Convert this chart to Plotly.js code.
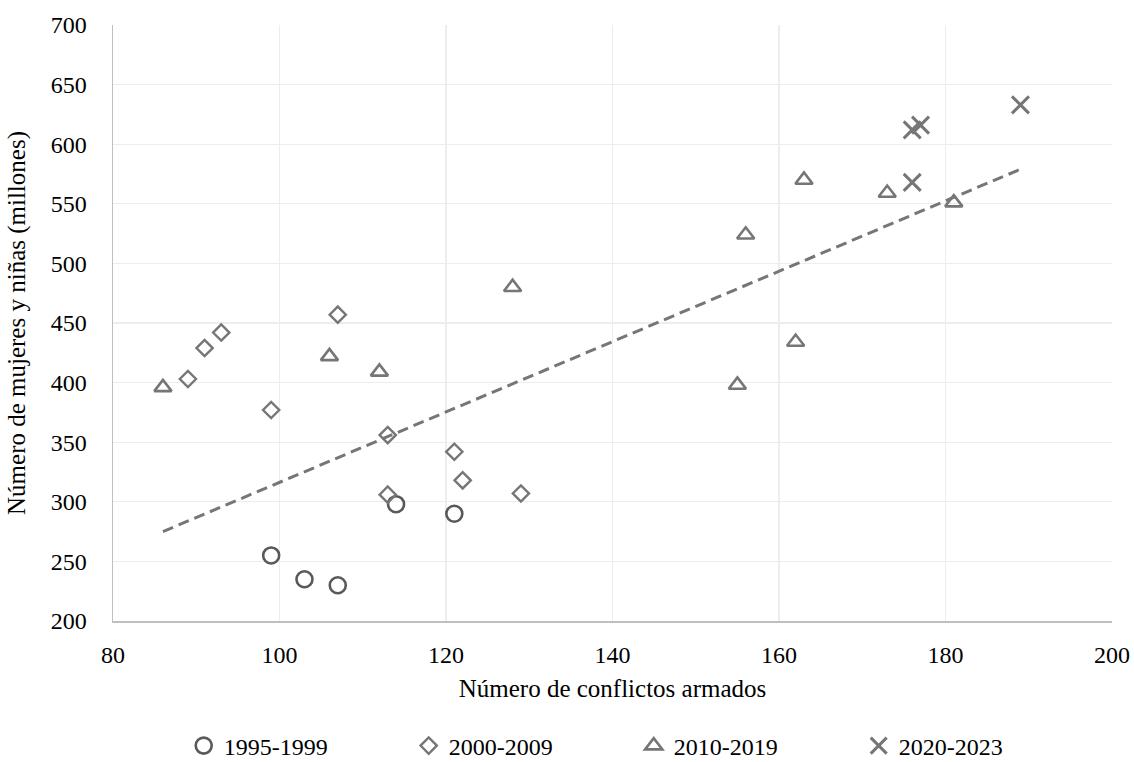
<!DOCTYPE html>
<html>
<head>
<meta charset="utf-8">
<script src="https://cdn.plot.ly/plotly-3.0.1.min.js"></script>
<style>
html,body{margin:0;padding:0;background:#fff;}
#chart{width:1134px;height:762px;}
</style>
</head>
<body>
<div id="chart"></div>
<script>
// ---- Data ----
const seriesNames = ["1995-1999", "2000-2009", "2010-2019", "2020-2023"];

const conflicts1995 = [99, 103, 107, 114, 121];
const women1995     = [255, 235, 230, 298, 290];

const conflicts2000 = [89, 91, 93, 99, 107, 113, 113, 121, 122, 129];
const women2000     = [403, 429, 442, 377, 457, 356, 306, 342, 318, 307];

const conflicts2010 = [86, 106, 112, 128, 155, 156, 162, 163, 173, 181];
const women2010     = [396, 422, 409, 480, 398, 524, 434, 570, 559, 551];

const conflicts2020 = [176, 177, 176, 189];
const women2020     = [612, 616, 568, 633];

// Linear trendline end points as drawn in the reference
const trendX = [86, 189];
const trendY = [275, 579];

const xTicks = [80, 100, 120, 140, 160, 180, 200];
const yTicks = [200, 250, 300, 350, 400, 450, 500, 550, 600, 650, 700];

const xTitle = "Número de conflictos armados";
const yTitle = "Número de mujeres y niñas (millones)";

// ---- Chart ----
const serif = "'Liberation Serif', 'Times New Roman', Times, serif";
const darkGray = "#595959";
const midGray = "#767676";

const traces = [
  {
    x: conflicts1995, y: women1995, name: seriesNames[0],
    type: "scatter", mode: "markers",
    marker: {symbol: "circle-open", size: 16, color: darkGray, line: {color: darkGray, width: 2.6}}
  },
  {
    x: conflicts2000, y: women2000, name: seriesNames[1],
    type: "scatter", mode: "markers",
    marker: {symbol: "diamond-open", size: 12.5, color: midGray, line: {color: midGray, width: 2.4}}
  },
  {
    x: conflicts2010, y: women2010, name: seriesNames[2],
    type: "scatter", mode: "markers",
    marker: {symbol: "triangle-up-open", size: 15, color: midGray, line: {color: midGray, width: 2.6}}
  },
  {
    x: conflicts2020, y: women2020, name: seriesNames[3],
    type: "scatter", mode: "markers",
    marker: {symbol: "x-thin-open", size: 17, color: midGray, line: {color: midGray, width: 3}}
  },
  {
    x: trendX, y: trendY, name: "Tendencia",
    type: "scatter", mode: "lines", showlegend: false,
    line: {color: midGray, width: 3, dash: "11px,6px"}
  }
];

const layout = {
  width: 1134,
  height: 762,
  margin: {l: 113, r: 22, t: 25, b: 141},
  paper_bgcolor: "#ffffff",
  plot_bgcolor: "#ffffff",
  font: {family: serif, size: 24, color: "#000000"},
  showlegend: true,
  xaxis: {
    range: [80, 200],
    tickvals: xTicks,
    ticktext: xTicks.map(String),
    showgrid: true, gridcolor: "#ededed", gridwidth: 1.3,
    zeroline: false,
    showline: true, linecolor: "#bfbfbf", linewidth: 1.5,
    ticks: "",
    ticklabelstandoff: 12,
    tickfont: {family: serif, size: 24, color: "#000"},
    title: {text: xTitle, font: {family: serif, size: 25, color: "#000"}, standoff: 12},
    automargin: false,
    fixedrange: true
  },
  yaxis: {
    range: [200, 700],
    tickvals: yTicks,
    ticktext: yTicks.map(String),
    showgrid: true, gridcolor: "#ededed", gridwidth: 1.3,
    zeroline: false,
    showline: true, linecolor: "#bfbfbf", linewidth: 1.5,
    ticks: "",
    ticklabelstandoff: 20,
    tickfont: {family: serif, size: 24, color: "#000"},
    title: {text: yTitle, font: {family: serif, size: 25, color: "#000"}, standoff: 18},
    automargin: false,
    fixedrange: true
  },
  legend: {
    orientation: "h",
    xref: "container", yref: "container",
    x: 0.162, xanchor: "left",
    y: 0.021, yanchor: "middle",
    font: {family: serif, size: 24, color: "#000"},
    entrywidth: 180,
    itemwidth: 30,
    bgcolor: "rgba(0,0,0,0)",
    traceorder: "normal"
  }
};

Plotly.newPlot("chart", traces, layout, {displayModeBar: false, staticPlot: true});
</script>
</body>
</html>
